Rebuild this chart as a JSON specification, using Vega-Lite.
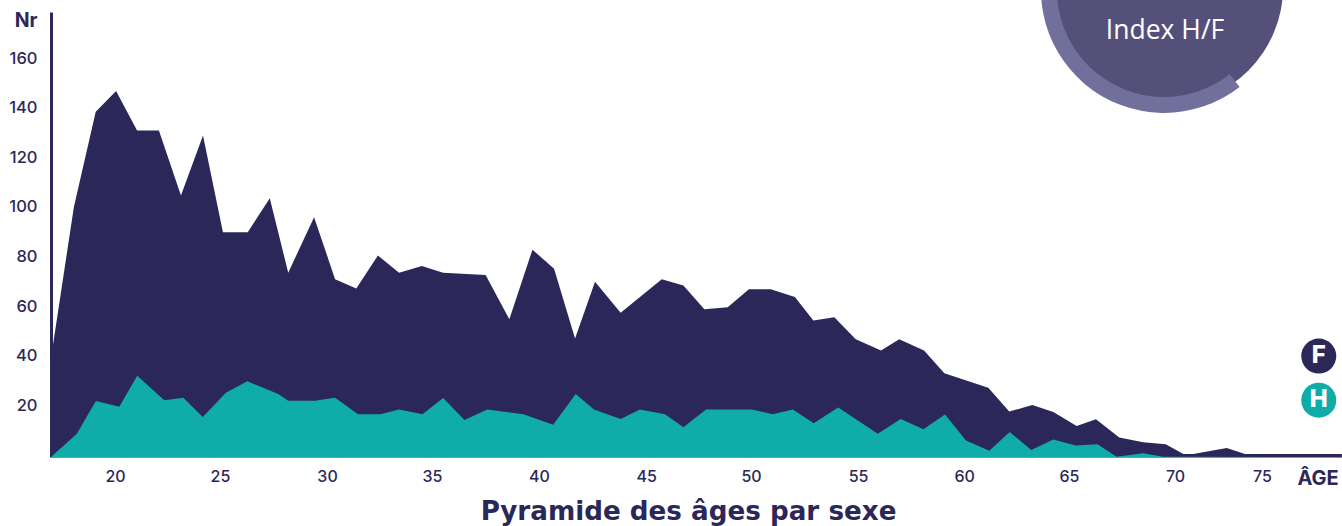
{"$schema":"https://vega.github.io/schema/vega-lite/v6.json","width":1291,"height":445,"autosize":{"type":"none"},"padding":{"left":51,"top":12,"right":0,"bottom":69},"background":"white","config":{"view":{"stroke":null},"font":"Inter"},
"datasets":{"series":[
{"sexe":"F","age":17.0,"count":39.9},{"sexe":"F","age":18.08,"count":100.8},{"sexe":"F","age":19.11,"count":139.2},{"sexe":"F","age":20.07,"count":147.6},{"sexe":"F","age":21.06,"count":131.6},{"sexe":"F","age":22.09,"count":131.6},{"sexe":"F","age":23.13,"count":105.4},{"sexe":"F","age":24.17,"count":129.6},{"sexe":"F","age":25.11,"count":90.6},{"sexe":"F","age":26.28,"count":90.6},{"sexe":"F","age":27.32,"count":104.3},{"sexe":"F","age":28.19,"count":74.3},{"sexe":"F","age":29.41,"count":96.7},{"sexe":"F","age":30.4,"count":71.7},{"sexe":"F","age":31.4,"count":67.9},{"sexe":"F","age":32.42,"count":81.2},{"sexe":"F","age":33.42,"count":74.3},{"sexe":"F","age":34.49,"count":77.0},{"sexe":"F","age":35.5,"count":74.3},{"sexe":"F","age":37.5,"count":73.4},{"sexe":"F","age":38.62,"count":55.5},{"sexe":"F","age":39.71,"count":83.6},{"sexe":"F","age":40.73,"count":75.9},{"sexe":"F","age":41.72,"count":47.8},{"sexe":"F","age":42.66,"count":70.7},{"sexe":"F","age":43.87,"count":58.2},{"sexe":"F","age":45.81,"count":71.7},{"sexe":"F","age":46.83,"count":69.1},{"sexe":"F","age":47.82,"count":59.6},{"sexe":"F","age":48.92,"count":60.4},{"sexe":"F","age":49.92,"count":67.6},{"sexe":"F","age":50.95,"count":67.6},{"sexe":"F","age":52.09,"count":64.5},{"sexe":"F","age":52.96,"count":55.0},{"sexe":"F","age":53.95,"count":56.3},{"sexe":"F","age":54.96,"count":47.5},{"sexe":"F","age":56.15,"count":42.9},{"sexe":"F","age":57.01,"count":47.5},{"sexe":"F","age":58.18,"count":42.9},{"sexe":"F","age":59.14,"count":33.8},{"sexe":"F","age":61.21,"count":27.9},{"sexe":"F","age":62.2,"count":18.3},{"sexe":"F","age":63.29,"count":21.0},{"sexe":"F","age":64.28,"count":18.1},{"sexe":"F","age":65.38,"count":12.5},{"sexe":"F","age":66.29,"count":15.2},{"sexe":"F","age":67.39,"count":7.9},{"sexe":"F","age":68.52,"count":5.9},{"sexe":"F","age":69.58,"count":5.1},{"sexe":"F","age":70.41,"count":1.2},{"sexe":"F","age":70.88,"count":1.2},{"sexe":"F","age":72.46,"count":3.6},{"sexe":"F","age":73.32,"count":1.2},{"sexe":"F","age":77.89,"count":1.2},
{"sexe":"H","age":17.0,"count":0},{"sexe":"H","age":18.21,"count":9.3},{"sexe":"H","age":19.12,"count":22.6},{"sexe":"H","age":20.22,"count":20.3},{"sexe":"H","age":21.07,"count":32.8},{"sexe":"H","age":22.34,"count":22.9},{"sexe":"H","age":23.24,"count":23.9},{"sexe":"H","age":24.16,"count":16.1},{"sexe":"H","age":25.25,"count":25.9},{"sexe":"H","age":26.26,"count":30.5},{"sexe":"H","age":27.72,"count":25.4},{"sexe":"H","age":28.19,"count":22.7},{"sexe":"H","age":29.45,"count":22.7},{"sexe":"H","age":30.4,"count":23.9},{"sexe":"H","age":31.48,"count":17.2},{"sexe":"H","age":32.54,"count":17.2},{"sexe":"H","age":33.42,"count":19.2},{"sexe":"H","age":34.52,"count":17.2},{"sexe":"H","age":35.5,"count":23.8},{"sexe":"H","age":36.5,"count":14.9},{"sexe":"H","age":37.58,"count":19.2},{"sexe":"H","age":39.28,"count":17.2},{"sexe":"H","age":40.69,"count":13.0},{"sexe":"H","age":41.75,"count":25.4},{"sexe":"H","age":42.61,"count":19.2},{"sexe":"H","age":43.87,"count":15.3},{"sexe":"H","age":44.78,"count":19.2},{"sexe":"H","age":45.96,"count":17.2},{"sexe":"H","age":46.83,"count":12.0},{"sexe":"H","age":47.9,"count":19.2},{"sexe":"H","age":50.05,"count":19.2},{"sexe":"H","age":51.04,"count":17.2},{"sexe":"H","age":51.99,"count":19.2},{"sexe":"H","age":52.98,"count":13.6},{"sexe":"H","age":54.13,"count":20.0},{"sexe":"H","age":56.0,"count":9.4},{"sexe":"H","age":57.08,"count":15.3},{"sexe":"H","age":58.15,"count":11.2},{"sexe":"H","age":59.17,"count":17.1},{"sexe":"H","age":60.16,"count":6.7},{"sexe":"H","age":61.26,"count":2.5},{"sexe":"H","age":62.22,"count":10.1},{"sexe":"H","age":63.24,"count":2.8},{"sexe":"H","age":64.28,"count":7.1},{"sexe":"H","age":65.33,"count":4.6},{"sexe":"H","age":66.36,"count":5.1},{"sexe":"H","age":67.27,"count":0.1},{"sexe":"H","age":68.52,"count":1.5},{"sexe":"H","age":69.45,"count":0.1},{"sexe":"H","age":77.89,"count":0}
],
"legend":[{"sexe":"F","age":76.8,"count":40.7},{"sexe":"H","age":76.8,"count":22.9}],
"disc":[{"age":69.55,"count":189.5}],
"ring":[{"age":69.5,"count":188.3}],
"badge":[{"label":"Index H/F","age":69.55,"count":171.6}],
"unit":[{"label":"ÂGE","age":76.77,"count":-8.9}]},
"encoding":{
"x":{"field":"age","type":"quantitative","scale":{"domain":[17,77.896],"nice":false,"zero":false},
"axis":{"values":[20.02,24.97,30.02,34.97,40.02,45.07,50.02,55.07,60.07,65.02,70.02,74.12],"labelExpr":"format(round(datum.value/5)*5,'d')","grid":false,"ticks":false,"tickSize":0,"labelPadding":11,"labelFontSize":16,"labelFontWeight":500,"labelColor":"#2b2859","labelFlush":false,"labelOverlap":false,"domainColor":"#8f8db0","domainWidth":1,"title":"Pyramide des âges par sexe","titleFont":"DejaVu Sans","titleFontSize":26.2,"titleFontWeight":700,"titleColor":"#2b2859","titleX":637,"titleY":54,"titleAnchor":"middle","titleAlign":"center","titleBaseline":"middle"}},
"y":{"field":"count","type":"quantitative","scale":{"domain":[0,179.4],"nice":false},
"axis":{"values":[20,40,60,80,100,120,140,160],"grid":false,"ticks":false,"tickSize":0,"labelPadding":14,"labelFontSize":16.5,"labelFontWeight":500,"labelColor":"#2b2859","labelOffset":-2,"domainColor":"#2b2859","domainWidth":3,"title":"Nr","titleAngle":0,"titleFontSize":19.5,"titleFontWeight":700,"titleColor":"#2b2859","titleX":-14,"titleY":8,"titleAlign":"right","titleBaseline":"middle"}}},
"layer":[
{"data":{"name":"disc"},"mark":{"type":"arc","theta":0,"theta2":6.2832,"radius":118,"radius2":0,"fill":"#54507a"}},
{"data":{"name":"ring"},"mark":{"type":"arc","theta":2.48,"theta2":5.2,"radius":123,"radius2":107,"fill":"#716f9b"}},
{"data":{"name":"badge"},"mark":{"type":"text","font":"Open Sans","fontSize":26.5,"color":"white","align":"center","baseline":"middle"},"encoding":{"text":{"field":"label"}}},
{"data":{"name":"series"},"mark":{"type":"area","interpolate":"linear","opacity":1},"encoding":{"y":{"field":"count","type":"quantitative","stack":null},"color":{"field":"sexe","type":"nominal","scale":{"domain":["F","H"],"range":["#2b2859","#10ada8"]},"legend":null}}},
{"data":{"name":"legend"},"mark":{"type":"point","filled":true,"shape":"circle","size":1225,"opacity":1},"encoding":{"color":{"field":"sexe","type":"nominal","legend":null}}},
{"data":{"name":"legend"},"mark":{"type":"text","fontSize":24,"fontWeight":800,"color":"white","align":"center","baseline":"middle"},"encoding":{"text":{"field":"sexe"}}},
{"data":{"name":"unit"},"mark":{"type":"text","fontSize":20,"fontWeight":700,"color":"#2b2859","align":"center","baseline":"middle"},"encoding":{"text":{"field":"label"}}}
]}
